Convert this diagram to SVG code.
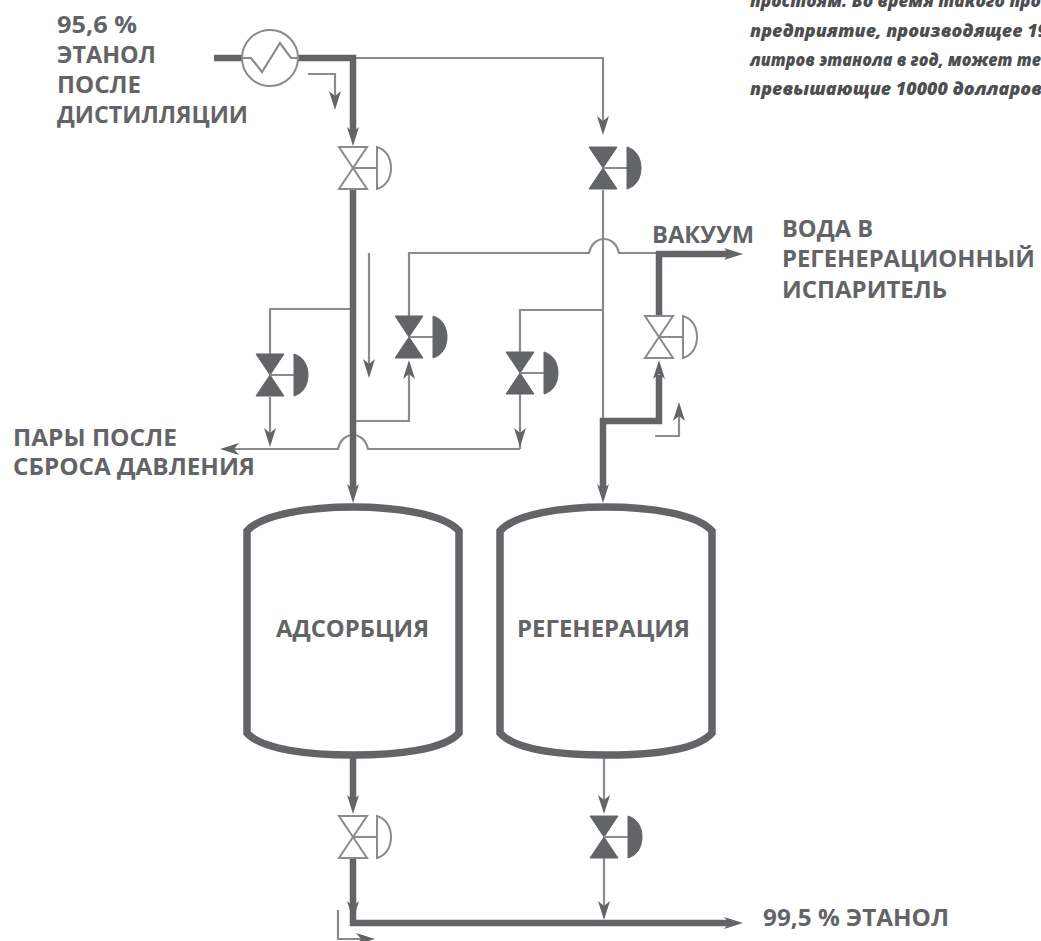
<svg xmlns="http://www.w3.org/2000/svg" width="1041" height="941" viewBox="0 0 1041 941">
<style>
.t{font-family:"Open Sans","Noto Sans",sans-serif;font-weight:700;font-size:23.5px;fill:#636467}
.n{font-family:"Open Sans","Noto Sans",sans-serif;font-weight:800;font-style:italic;font-size:17.5px;fill:#4d4e50}
.thin{fill:none;stroke:#8a8b8e;stroke-width:2.2}
.thick{fill:none;stroke:#636467;stroke-width:6.5}
.tank{fill:#fff;stroke:#636467;stroke-width:7.5}
.ah{fill:#636467}
.open{fill:#fff;stroke:#8a8b8e;stroke-width:2}
.fill{fill:#636467;stroke:#636467;stroke-width:1}
.stem{stroke:#8a8b8e;stroke-width:2;fill:none}
</style>
<defs>
<g id="va-open">
<path class="open" d="M-14-21H14L-14 21H14Z"/><path class="stem" d="M0 0H24"/><path class="open" d="M24-21C34-18 38-9 38 0C38 9 34 18 24 21Z"/>
</g>
<g id="va-fill">
<path class="fill" d="M-14-21H14L-14 21H14Z"/><path class="stem" d="M0 0H24"/><path class="fill" d="M24-21C34-18 38-9 38 0C38 9 34 18 24 21Z"/>
</g>
<path id="adn" class="ah" d="M0 0L-6-19L0-14L6-19Z"/>
</defs>
<g id="connectors">
<path class="thin" d="M353 58H603V125"/>
<path class="thin" d="M603 190V490"/>
<path class="thin" d="M353 309H270V354"/>
<path class="thin" d="M270 397V437"/>
<path class="thin" d="M228 449H338C340 440 346 435 353 435C360 435 366 440 368 449H520"/>
<path class="thin" d="M603 310H520V352"/>
<path class="thin" d="M520 394V449"/>
<path class="thin" d="M409 316V253H589C591 244 597 239 604 239C611 239 617 244 619 253H659"/>
<path class="thin" d="M409 368V421H356"/>
<path class="thin" d="M369 253V368"/>
<path class="thin" d="M308 74H335V100"/>
<path class="thin" d="M655 436H679V412"/>
<path class="thin" d="M604 755V804"/>
<path class="thin" d="M604 858V910"/>
<path class="thin" d="M338 910V939H365"/>
<path class="thick" d="M214 58H242"/>
<path class="thick" d="M297 58H353V135"/>
<path class="thick" d="M353 190V490"/>
<path class="thick" d="M603 490V421H659V375"/>
<path class="thick" d="M659 316V254H730"/>
<path class="thick" d="M353 755V800"/>
<path class="thick" d="M353 858V923H730"/>
<use href="#adn" transform="translate(353 146)"/>
<use href="#adn" transform="translate(335 110)"/>
<use href="#adn" transform="translate(603 135)"/>
<use href="#adn" transform="translate(270 447)"/>
<use href="#adn" transform="translate(520 447)"/>
<use href="#adn" transform="translate(369 378)"/>
<use href="#adn" transform="translate(353 503)"/>
<use href="#adn" transform="translate(603 503)"/>
<use href="#adn" transform="translate(409 360) rotate(180)"/>
<use href="#adn" transform="translate(659 360) rotate(180)"/>
<use href="#adn" transform="translate(679 402) rotate(180)"/>
<use href="#adn" transform="translate(743 254) rotate(-90)"/>
<use href="#adn" transform="translate(743 923) rotate(-90)"/>
<use href="#adn" transform="translate(220 449) rotate(90)"/>
<use href="#adn" transform="translate(375 939) rotate(-90)"/>
<use href="#adn" transform="translate(353 814)"/>
<use href="#adn" transform="translate(604 814)"/>
<use href="#adn" transform="translate(353 920)"/>
<use href="#adn" transform="translate(604 920)"/>
</g>
<g id="heat-exchanger">
<circle cx="270" cy="58" r="28" fill="#fff" stroke="#8a8b8e" stroke-width="2"/>
<path class="thin" d="M242 58H251L262 72L280 43L291 58H297"/>
</g>
<g id="valve-1"><use href="#va-open" x="353" y="168"/></g>
<g id="valve-2"><use href="#va-fill" x="603" y="168"/></g>
<g id="valve-3"><use href="#va-fill" x="270" y="375"/></g>
<g id="valve-4"><use href="#va-fill" x="409" y="337"/></g>
<g id="valve-5"><use href="#va-fill" x="520" y="373"/></g>
<g id="valve-6"><use href="#va-open" x="659" y="337"/></g>
<g id="valve-7"><use href="#va-open" x="353" y="837"/></g>
<g id="valve-8"><use href="#va-fill" x="604" y="837"/></g>
<g id="tank-adsorption">
<path class="tank" d="M247 531C262 514 310 507 353 507C396 507 444 514 459 531V733C444 750 396 755 353 755C310 755 262 750 247 733Z"/>
<text class="t" x="276" y="637" textLength="153" lengthAdjust="spacingAndGlyphs">АДСОРБЦИЯ</text>
</g>
<g id="tank-regeneration">
<path class="tank" d="M500 531C515 514 562 507 606 507C650 507 697 514 712 531V733C697 750 652 755 606 755C560 755 515 750 500 733Z"/>
<text class="t" x="517" y="637" textLength="173" lengthAdjust="spacingAndGlyphs">РЕГЕНЕРАЦИЯ</text>
</g>
<g id="labels">
<text class="t" x="57" y="33" textLength="80" lengthAdjust="spacingAndGlyphs">95,6 %</text>
<text class="t" x="57" y="63" textLength="99" lengthAdjust="spacingAndGlyphs">ЭТАНОЛ</text>
<text class="t" x="57" y="93" textLength="84" lengthAdjust="spacingAndGlyphs">ПОСЛЕ</text>
<text class="t" x="57" y="123" textLength="191" lengthAdjust="spacingAndGlyphs">ДИСТИЛЛЯЦИИ</text>
<text class="t" x="13" y="446" textLength="164" lengthAdjust="spacingAndGlyphs">ПАРЫ ПОСЛЕ</text>
<text class="t" x="13" y="475" textLength="242" lengthAdjust="spacingAndGlyphs">СБРОСА ДАВЛЕНИЯ</text>
<text class="t" x="652" y="243" textLength="102" lengthAdjust="spacingAndGlyphs">ВАКУУМ</text>
<text class="t" x="782" y="237" textLength="91" lengthAdjust="spacingAndGlyphs">ВОДА В</text>
<text class="t" x="782" y="267" textLength="253" lengthAdjust="spacingAndGlyphs">РЕГЕНЕРАЦИОННЫЙ</text>
<text class="t" x="782" y="298" textLength="165" lengthAdjust="spacingAndGlyphs">ИСПАРИТЕЛЬ</text>
<text class="t" x="763" y="926" textLength="186" lengthAdjust="spacingAndGlyphs">99,5 % ЭТАНОЛ</text>
<text class="n" x="750" y="7" textLength="291" lengthAdjust="spacingAndGlyphs">простоям. Во время такого про</text>
<text class="n" x="750" y="37" textLength="298" lengthAdjust="spacingAndGlyphs">предприятие, производящее 19</text>
<text class="n" x="750" y="66" textLength="291" lengthAdjust="spacingAndGlyphs">литров этанола в год, может те</text>
<text class="n" x="750" y="95" textLength="292" lengthAdjust="spacingAndGlyphs">превышающие 10000 долларов</text>
</g>
</svg>
